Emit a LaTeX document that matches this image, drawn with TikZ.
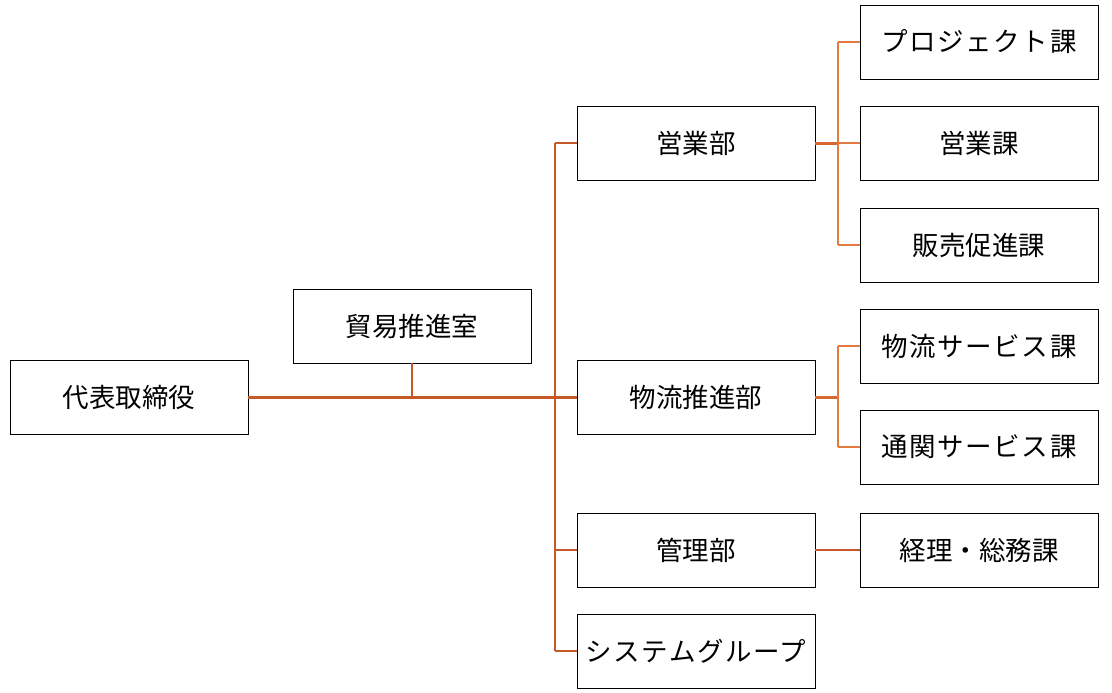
\documentclass[tikz,border=0pt]{standalone}
\usepackage{fontspec}
\setmainfont{Noto Sans CJK JP}
\newfontfamily\kanaspaced[LetterSpace=6]{Noto Sans CJK JP}
\definecolor{lineD}{RGB}{197,90,40}
\definecolor{lineM}{RGB}{214,104,48}
\definecolor{lineL}{RGB}{226,122,66}
\begin{document}
\begin{tikzpicture}[x=1pt,y=-1pt,
  box/.style={draw=black,line width=0.9pt,minimum width=238pt,minimum height=74pt,inner sep=0pt,font=\fontsize{26.5}{30}\selectfont},
  kanabox/.style={box,font=\kanaspaced\fontsize{26.5}{30}\selectfont},
  trunk/.style={draw=lineD,line width=3pt},
  branch/.style={draw=lineD,line width=1.9pt},
  stub/.style={draw=lineM,line width=3pt},
  sub/.style={draw=lineL,line width=1.9pt}]
\useasboundingbox (0,0) rectangle (1112,693);
\node[box] (ceo) at (129,397) {代表取締役};
\node[box] (trade) at (412,326) {貿易推進室};
\node[box] (sales) at (696,143) {営業部};
\node[box] (logi) at (696,397) {物流推進部};
\node[box] (admin) at (696,550) {管理部};
\node[kanabox] (sys) at (696,651) {システムグループ};
\node[kanabox] (proj) at (979,42) {プロジェクト課};
\node[box] (salesk) at (979,143) {営業課};
\node[box] (promo) at (979,245) {販売促進課};
\node[kanabox] (logis) at (979,346) {物流サービス課};
\node[kanabox] (cust) at (979,447) {通関サービス課};
\node[box] (acct) at (979,550) {経理・総務課};
\coordinate (j) at (555,397);
\coordinate (ja) at (838,143);
\coordinate (jb) at (838,397);
% left trunk
\draw[trunk] (ceo.east) -- (logi.west);
\draw[branch] (trade.south) -- (trade.south |- ceo.east);
\draw[branch] (j |- sales.west) -- (j |- sys.west);
\draw[branch] (j |- sales.west) -- (sales.west);
\draw[branch] (j |- admin.west) -- (admin.west);
\draw[branch] (j |- sys.west) -- (sys.west);
% sales dept
\draw[stub] (sales.east) -- (ja);
\draw[sub] (ja |- proj.west) -- (ja |- promo.west);
\draw[sub] (ja |- proj.west) -- (proj.west);
\draw[sub] (ja) -- (salesk.west);
\draw[sub] (ja |- promo.west) -- (promo.west);
% logistics dept
\draw[stub] (logi.east) -- (jb);
\draw[sub] (jb |- logis.west) -- (jb |- cust.west);
\draw[sub] (jb |- logis.west) -- (logis.west);
\draw[sub] (jb |- cust.west) -- (cust.west);
% admin
\draw[branch] (admin.east) -- (acct.west);
\end{tikzpicture}
\end{document}
